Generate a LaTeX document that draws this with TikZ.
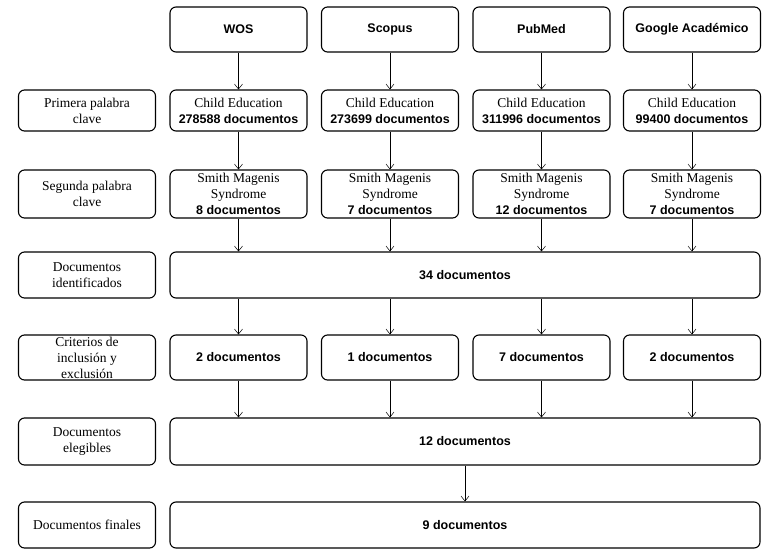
\documentclass[tikz,border=0pt]{standalone}
\usepackage{fontspec}
\setmainfont{Liberation Serif}
\newfontfamily\hsans{Liberation Sans}
\usetikzlibrary{arrows.meta}
\begin{document}
\begin{tikzpicture}[x=1pt,y=-1pt,
  bx/.style={draw,line width=1.1pt,rounded corners=6pt,inner sep=0pt,align=center,font=\fontsize{13.5}{16}\selectfont},
  hd/.style={font=\hsans\bfseries\fontsize{12.5}{16}\selectfont},
  ar/.style={-{Straight Barb[length=5pt,width=8pt,line width=0.5pt]},line width=0.5pt}]
\useasboundingbox (0,0) rectangle (770,559);
\fill[white] (0,0) rectangle (770,559);
\newcommand\hb[1]{{\hsans\bfseries\fontsize{12.5}{16}\selectfont #1}}
\def\cA{238.5}\def\cB{390}\def\cC{541.5}\def\cD{692}
\foreach \n/\c/\t in {hA/\cA/WOS,hB/\cB/Scopus,hC/\cC/PubMed,hD/\cD/Google Académico}
  \node[bx,hd,minimum width=137pt,minimum height=45pt] (\n) at (\c,29.5) {\t};
\node[bx,minimum width=137pt,minimum height=41pt] (l1) at (87,110.5) {Primera palabra\\clave};
\node[bx,minimum width=137pt,minimum height=48pt] (l2) at (87,194) {Segunda palabra\\clave};
\node[bx,minimum width=137pt,minimum height=46pt] (l3) at (87,275) {Documentos\\identificados};
\node[bx,minimum width=137pt,minimum height=45pt] (l4) at (87,357.5) {Criterios de\\inclusión y\\exclusión};
\node[bx,minimum width=137pt,minimum height=47pt] (l5) at (87,441.5) {Documentos\\elegibles};
\node[bx,minimum width=137pt,minimum height=46pt] (l6) at (87,525) {Documentos finales};
\foreach \n/\c/\v in {aA/\cA/278588,aB/\cB/273699,aC/\cC/311996,aD/\cD/99400}
  \node[bx,minimum width=137pt,minimum height=41pt] (\n) at (\c,110.5) {Child Education\\\hb{\v\ documentos}};
\foreach \n/\c/\v in {bA/\cA/8,bB/\cB/7,bC/\cC/12,bD/\cD/7}
  \node[bx,minimum width=137pt,minimum height=48pt] (\n) at (\c,194) {Smith Magenis\\Syndrome\\\hb{\v\ documentos}};
\node[bx,hd,minimum width=590pt,minimum height=46pt] (c) at (465,275) {34 documentos};
\foreach \n/\c/\v in {dA/\cA/2,dB/\cB/1,dC/\cC/7,dD/\cD/2}
  \node[bx,hd,minimum width=137pt,minimum height=45pt] (\n) at (\c,357.5) {\v\ documentos};
\node[bx,hd,minimum width=590pt,minimum height=47pt] (e) at (465,441.5) {12 documentos};
\node[bx,hd,minimum width=590pt,minimum height=46pt] (f) at (465,525) {9 documentos};
\foreach \x in {A,B,C,D}{
  \draw[ar] (h\x) -- (a\x);
  \draw[ar] (a\x) -- (b\x);
  \draw[ar] (b\x.south) -- (b\x.south |- c.north);
  \draw[ar] (c.south -| d\x.north) -- (d\x);
  \draw[ar] (d\x.south) -- (d\x.south |- e.north);
}
\draw[ar] (e) -- (f);
\end{tikzpicture}
\end{document}
